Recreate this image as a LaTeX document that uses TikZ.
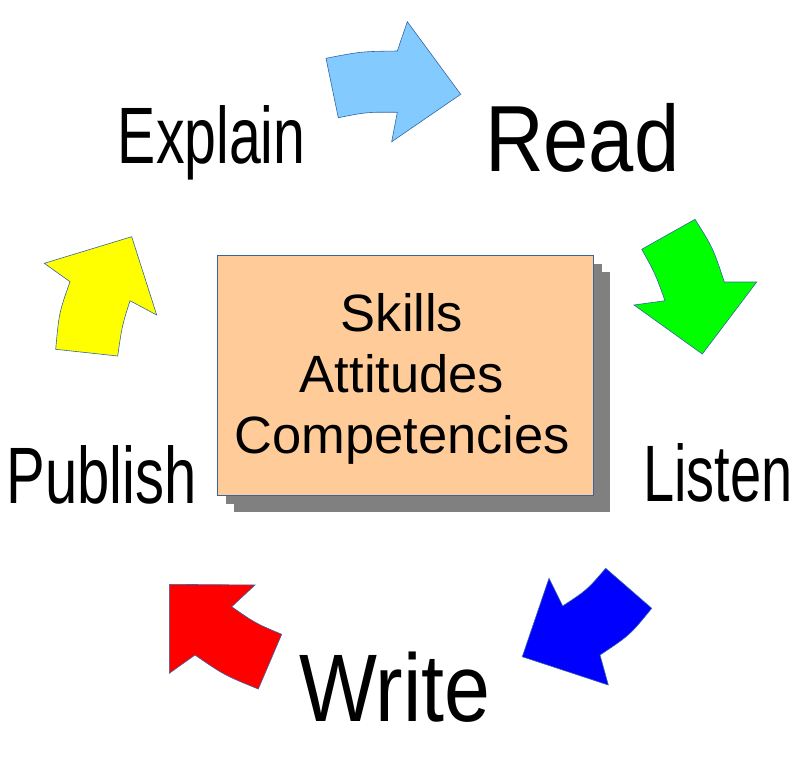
\documentclass[tikz,border=0pt]{standalone}
\usepackage{fontspec}
\setmainfont{Liberation Sans}
\usetikzlibrary{shadows}
\definecolor{skyarrow}{RGB}{131,202,255}
\definecolor{greenarrow}{RGB}{0,255,0}
\definecolor{bluearrow}{RGB}{0,0,255}
\definecolor{redarrow}{RGB}{255,0,0}
\definecolor{yellowarrow}{RGB}{255,255,0}
\definecolor{edgeblue}{RGB}{52,101,164}
\definecolor{boxfill}{RGB}{255,204,153}
\definecolor{shadowgray}{RGB}{128,128,128}
\begin{document}
\begin{tikzpicture}[x=1pt,y=-1pt,
  arrowshape/.style={draw=edgeblue,line width=0.6pt,line join=miter},
  lbl/.style={inner sep=0pt,anchor=base},
  centerbox/.style={draw=edgeblue,line width=0.8pt,fill=boxfill,
    minimum width=376pt,minimum height=240pt,inner sep=0pt,
    double copy shadow={shadow xshift=8.5pt,shadow yshift=-8.5pt,fill=shadowgray,draw=none}}
]
\useasboundingbox (0,0) rectangle (794,756);

% central box
\node[centerbox] (box) at (405.3,375) {};
\node[inner sep=0pt,align=center,font=\fontsize{52.5}{61}\selectfont,anchor=base] (boxtext) at (402,453) {Skills\\Attitudes\\Competencies};

% labels
\node[lbl] (explain) at (211.7,163.3) {\fontsize{80}{80}\selectfont\scalebox{0.715}[1]{Explain}};
\node[lbl] (read) at (582.2,171) {\fontsize{94}{94}\selectfont\scalebox{0.865}[1]{Read}};
\node[lbl] (listen) at (718,501.7) {\fontsize{80}{80}\selectfont\scalebox{0.70}[1]{Listen}};
\node[lbl] (write) at (394.7,721) {\fontsize{96}{96}\selectfont\scalebox{0.86}[1]{Write}};
\node[lbl] (publish) at (101.7,503.3) {\fontsize{80}{80}\selectfont\scalebox{0.725}[1]{Publish}};

% arrows
% light blue (Explain -> Read)
\filldraw[arrowshape,fill=skyarrow]
  (326,58.3) .. controls (361,51.5) .. (397.3,51) -- (407.3,21.7) -- (460.7,94.3)
  -- (391.7,141.7) -- (397.3,112.3) .. controls (367,112) .. (338.3,117.7) -- cycle;
% green (Read -> Listen)
\filldraw[arrowshape,fill=greenarrow]
  (641.7,249.3) -- (695,219.3) .. controls (713,248) .. (724.3,282) -- (756.7,282)
  -- (702.3,354) -- (634,305) -- (665,300.7) .. controls (655,273) .. (641.7,249.3) -- cycle;
% blue (Listen -> Write)
\filldraw[arrowshape,fill=bluearrow]
  (605.7,568.3) -- (651.7,608.3) .. controls (630,635) .. (600,655) -- (608.3,685)
  -- (522.3,656.7) -- (549,578.3) -- (562.7,606) .. controls (587,590) .. (605.7,568.3) -- cycle;
% red (Write -> Publish)
\filldraw[arrowshape,fill=redarrow]
  (169.3,584.3) -- (255,585) -- (231.7,606.7) .. controls (255,623) .. (281.7,634.3)
  -- (258.3,689) .. controls (224,675) .. (195,655) -- (169.3,673.3) -- cycle;
% yellow (Publish -> Explain)
\filldraw[arrowshape,fill=yellowarrow]
  (131.7,236.7) -- (156.7,315) -- (130,300.7) .. controls (122,326) .. (117.7,356)
  -- (55.7,349.3) .. controls (59,313) .. (70,281.7) -- (44.3,263.3) -- cycle;
\end{tikzpicture}
\end{document}
